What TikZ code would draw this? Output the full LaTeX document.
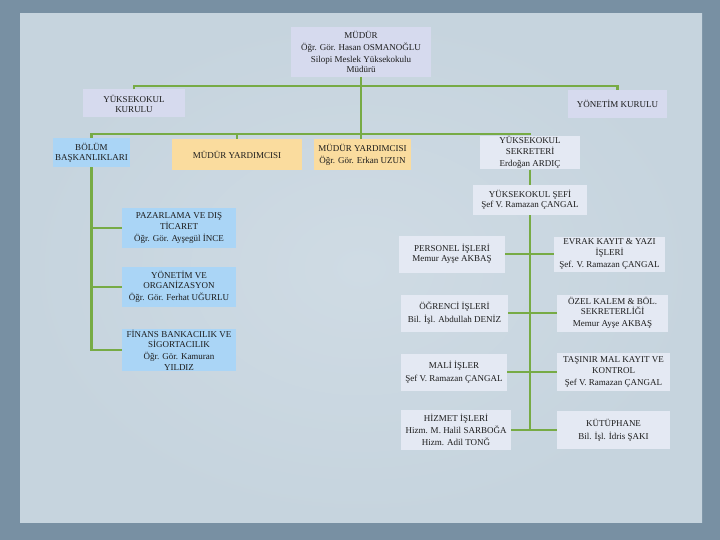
\documentclass[tikz,border=0pt]{standalone}
\usepackage{fontspec}
\setmainfont{Liberation Serif}
\definecolor{frame}{HTML}{7890A3}
\definecolor{paper}{HTML}{C6D4DE}
\definecolor{paperin}{HTML}{CFDBE4}
\definecolor{linkgreen}{HTML}{77AB45}
\definecolor{lav}{HTML}{D6DAEE}
\definecolor{pale}{HTML}{E4E9F3}
\definecolor{sky}{HTML}{AAD5F6}
\definecolor{sand}{HTML}{FADC9E}
\definecolor{ink}{HTML}{1C1C1C}

\begin{document}
\begin{tikzpicture}[x=1pt, y=-1pt,
box/.style={rectangle, inner sep=1pt, align=center, text=ink,
  font=\fontsize{9}{10.2}\selectfont},
lavbox/.style={box, fill=lav},
palebox/.style={box, fill=pale},
skybox/.style={box, fill=sky},
sandbox/.style={box, fill=sand},
link/.style={draw=linkgreen, line width=2.2pt}
]
\useasboundingbox (0,0) rectangle (720,540);
\fill[frame] (0,0) rectangle (720,540);
\shade[inner color=paperin, outer color=paper] (20,14) rectangle (702,522);

% top level
\node[lavbox, minimum width=140, minimum height=50] at (361,52) (mudur)
  {MÜDÜR\\[2pt] Öğr. Gör. Hasan OSMANOĞLU\\[2pt] Silopi Meslek Yüksekokulu\\ Müdürü};
\node[lavbox, minimum width=102, minimum height=28] at (134,103.5) (kurul)
  {YÜKSEKOKUL\\ KURULU};
\node[lavbox, minimum width=99, minimum height=28] at (617.5,104) (yonkurul)
  {YÖNETİM KURULU};

% second level
\node[skybox, minimum width=77, minimum height=29] at (91.5,152.5) (bolum)
  {BÖLÜM\\ BAŞKANLIKLARI};
\node[sandbox, minimum width=130, minimum height=31] at (237,154.5) (yard1)
  {MÜDÜR YARDIMCISI};
\node[sandbox, minimum width=97, minimum height=31] at (362.5,154.5) (yard2)
  {MÜDÜR YARDIMCISI\\[2pt] Öğr. Gör. Erkan UZUN};
\node[palebox, minimum width=100, minimum height=31] at (530,152.5) (sekreter)
  {YÜKSEKOKUL\\ SEKRETERİ\\[2pt] Erdoğan ARDIÇ};
\node[palebox, minimum width=114, minimum height=30] at (530,200) (sefi)
  {YÜKSEKOKUL ŞEFİ\\ Şef V. Ramazan ÇANGAL};

% departments
\node[skybox, minimum width=114, minimum height=40] at (179,228) (pazar)
  {PAZARLAMA VE DIŞ\\ TİCARET\\[2pt] Öğr. Gör. Ayşegül İNCE};
\node[skybox, minimum width=114, minimum height=40] at (179,287) (yonorg)
  {YÖNETİM VE\\ ORGANİZASYON\\[2pt] Öğr. Gör. Ferhat UĞURLU};
\node[skybox, minimum width=114, minimum height=42] at (179,350) (finans)
  {FİNANS BANKACILIK VE\\ SİGORTACILIK\\[2pt] Öğr. Gör. Kamuran\\ YILDIZ};

% offices
\node[palebox, minimum width=106, minimum height=37] at (452,254) (personel)
  {PERSONEL İŞLERİ\\ Memur Ayşe AKBAŞ};
\node[palebox, minimum width=111, minimum height=35] at (609.5,254) (evrak)
  {EVRAK KAYIT \& YAZI\\ İŞLERİ\\[2pt] Şef. V. Ramazan ÇANGAL};
\node[palebox, minimum width=107, minimum height=37] at (454.5,313) (ogrenci)
  {ÖĞRENCİ İŞLERİ\\[3pt] Bil. İşl. Abdullah DENİZ};
\node[palebox, minimum width=111, minimum height=37] at (612.5,313) (ozel)
  {ÖZEL KALEM \& BÖL.\\ SEKRETERLİĞİ\\[2pt] Memur Ayşe AKBAŞ};
\node[palebox, minimum width=106, minimum height=37] at (454,372) (mali)
  {MALİ İŞLER\\[3pt] Şef V. Ramazan ÇANGAL};
\node[palebox, minimum width=113, minimum height=38] at (613.5,372) (tasinir)
  {TAŞINIR MAL KAYIT VE\\ KONTROL\\[2pt] Şef V. Ramazan ÇANGAL};
\node[palebox, minimum width=110, minimum height=40] at (456,430) (hizmet)
  {HİZMET İŞLERİ\\[2pt] Hizm. M. Halil SARBOĞA\\[2pt] Hizm. Adil TONĞ};
\node[palebox, minimum width=113, minimum height=38] at (613.5,430) (kutup)
  {KÜTÜPHANE\\[3pt] Bil. İşl. İdris ŞAKI};

% connectors
\coordinate (bus1) at (361,86);
\coordinate (bus2) at (361,134);
\draw[link] (kurul.north) |- (bus1) -| (yonkurul.north);
\draw[link] (mudur.south) -- (mudur.south |- yard2.north);
\draw[link] (bolum.north) |- (bus2) -| (sekreter.north);
\draw[link] (yard1.north) -- (yard1.north |- bus2);
\draw[link] (sekreter.south) -- (sekreter.south |- sefi.north);
\draw[link] (sefi.south) -- (sefi.south |- hizmet.east);
\draw[link] (bolum.south) |- (finans.west);
\draw[link] (pazar.west) -- (pazar.west -| bolum.south);
\draw[link] (yonorg.west) -- (yonorg.west -| bolum.south);
\draw[link] (personel.east) -- (evrak.west);
\draw[link] (ogrenci.east) -- (ozel.west);
\draw[link] (mali.east) -- (tasinir.west);
\draw[link] (hizmet.east) -- (kutup.west);
\end{tikzpicture}
\end{document}
